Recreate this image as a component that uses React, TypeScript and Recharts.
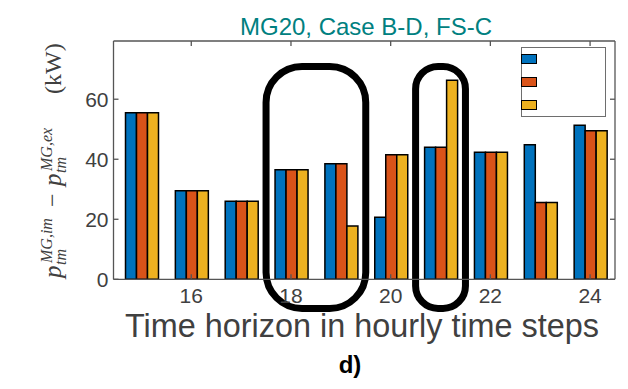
import React from 'react';
import { BarChart, Bar, XAxis, YAxis, Legend, ReferenceArea } from 'recharts';

const HOURS = ['15', '16', '17', '18', '19', '20', '21', '22', '23', '24'];
const HOUR_TICKS = ['16', '18', '20', '22', '24'];
const Y_TICKS = [0, 20, 40, 60];

// three cases per hour (blue / orange / yellow)
const CASE_1 = [55.5, 29.5, 26, 36.5, 38.5, 20.7, 44, 42.3, 44.8, 51.3];
const CASE_2 = [55.5, 29.5, 26, 36.5, 38.5, 41.5, 44, 42.3, 25.6, 49.5];
const CASE_3 = [55.5, 29.5, 26, 36.5, 17.8, 41.5, 66.3, 42.3, 25.6, 49.5];
const CASE_NAMES = ['case1', 'case2', 'case3'];
const COLORS = ['#0072BD', '#D95319', '#EDB120'];

// highlighted hour ranges (rounded boxes)
const HIGHLIGHT_FROM = ['18', '21'];
const HIGHLIGHT_TO = ['19', '21'];
const HIGHLIGHT_TOP = 70.9;
const HIGHLIGHT_BOTTOM = -9.7;

const Y_MAX = 79.4;
const FONT = '"Liberation Sans", Arial, Helvetica, sans-serif';
const SERIF = '"Liberation Serif", "Times New Roman", serif';
const AXIS_GRAY = '#555';
const TEXT_GRAY = '#404040';

const data = HOURS.map((hour, i) => ({
  hour,
  case1: CASE_1[i],
  case2: CASE_2[i],
  case3: CASE_3[i],
}));

const RoundedBox = (props: any) => {
  const { x, y, width, height } = props;
  const r = Math.min(36, width * 0.45);
  return <rect x={x} y={y} width={width} height={height} rx={r} ry={r} fill="none" stroke="#000" strokeWidth={7} />;
};

const LegendBox = ({ payload }: any) => (
  <div
    style={{
      position: 'relative',
      width: 85,
      height: 70,
      boxSizing: 'border-box',
      border: '1.5px solid #6e6e6e',
      background: '#fff',
    }}
  >
    {(payload || []).map((entry: any, i: number) => (
      <div
        key={i}
        style={{
          position: 'absolute',
          left: -1,
          top: 6 + i * 23,
          width: 16,
          height: 10,
          boxSizing: 'border-box',
          background: entry.color,
          border: '1.5px solid #000',
        }}
      />
    ))}
  </div>
);

const axisLine = { stroke: AXIS_GRAY, strokeWidth: 1.3 };
const tickStyle = { fill: TEXT_GRAY, fontSize: 21 };

export default function App() {
  return (
    <div style={{ position: 'absolute', left: 0, top: 0, width: 628, height: 389, background: '#fff' }}>
      <BarChart
        width={628}
        height={389}
        data={data}
        margin={{ top: 40, right: 12, bottom: 79.7, left: 0 }}
        barCategoryGap={9}
        barGap={0}
        style={{ fontFamily: FONT }}
      >
        <XAxis
          dataKey="hour"
          ticks={HOUR_TICKS}
          interval={0}
          padding={{ left: 3, right: 0 }}
          height={30}
          tickSize={-5}
          tickMargin={14}
          axisLine={axisLine}
          tickLine={axisLine}
          tick={tickStyle}
        />
        <XAxis
          xAxisId="top"
          orientation="top"
          dataKey="hour"
          ticks={HOUR_TICKS}
          interval={0}
          padding={{ left: 3, right: 0 }}
          height={1}
          tickSize={-5}
          axisLine={axisLine}
          tickLine={axisLine}
          tickFormatter={() => ''}
        />
        <YAxis
          type="number"
          domain={[0, Y_MAX]}
          ticks={Y_TICKS}
          allowDataOverflow
          width={113.5}
          tickSize={-5}
          tickMargin={10}
          axisLine={axisLine}
          tickLine={axisLine}
          tick={tickStyle}
        />
        <YAxis
          yAxisId="right"
          orientation="right"
          type="number"
          domain={[0, Y_MAX]}
          ticks={Y_TICKS}
          allowDataOverflow
          width={1}
          tickSize={-5}
          axisLine={axisLine}
          tickLine={axisLine}
          tickFormatter={() => ''}
        />
        {CASE_NAMES.map((key, i) => (
          <Bar
            key={key}
            dataKey={key}
            name={key}
            fill={COLORS[i]}
            stroke="#000"
            strokeWidth={1.5}
            isAnimationActive={false}
          />
        ))}
        {HIGHLIGHT_FROM.map((from, i) => (
          <ReferenceArea
            key={from}
            x1={from}
            x2={HIGHLIGHT_TO[i]}
            y1={HIGHLIGHT_BOTTOM}
            y2={HIGHLIGHT_TOP}
            ifOverflow="visible"
            shape={RoundedBox}
          />
        ))}
        <Legend
          layout="horizontal"
          verticalAlign="middle"
          align="center"
          content={LegendBox}
          wrapperStyle={{ left: 520.5, top: 46.5, width: 85, height: 70 }}
        />
      </BarChart>
      <svg
        width={628}
        height={389}
        style={{ position: 'absolute', left: 0, top: 0, pointerEvents: 'none' }}
      >
        <text x={366} y={35} textAnchor="middle" fontSize={24} fill="#008080" fontFamily={FONT}>
          MG20, Case B-D, FS-C
        </text>
        <text x={362} y={337} textAnchor="middle" fontSize={32.4} fill={TEXT_GRAY} fontFamily={FONT}>
          Time horizon in hourly time steps
        </text>
        <text x={350} y={373} textAnchor="middle" fontSize={24} fontWeight="bold" fill="#000" fontFamily={FONT}>
          d)
        </text>
        <g transform="translate(61,0) rotate(-90)" fill={TEXT_GRAY} fontFamily={SERIF}>
          <text x={-278} y={0} fontSize={25} fontStyle="italic">p</text>
          <text x={-265} y={5} fontSize={16} fontStyle="italic">tm</text>
          <text x={-263} y={-9} fontSize={16} fontStyle="italic">MG,im</text>
          <text x={-207} y={-1} fontSize={24}>−</text>
          <text x={-186} y={0} fontSize={25} fontStyle="italic">p</text>
          <text x={-173} y={5} fontSize={16} fontStyle="italic">tm</text>
          <text x={-171} y={-9} fontSize={16} fontStyle="italic">MG,ex</text>
          <text x={-94} y={0} fontSize={24}>(kW)</text>
        </g>
      </svg>
    </div>
  );
}
